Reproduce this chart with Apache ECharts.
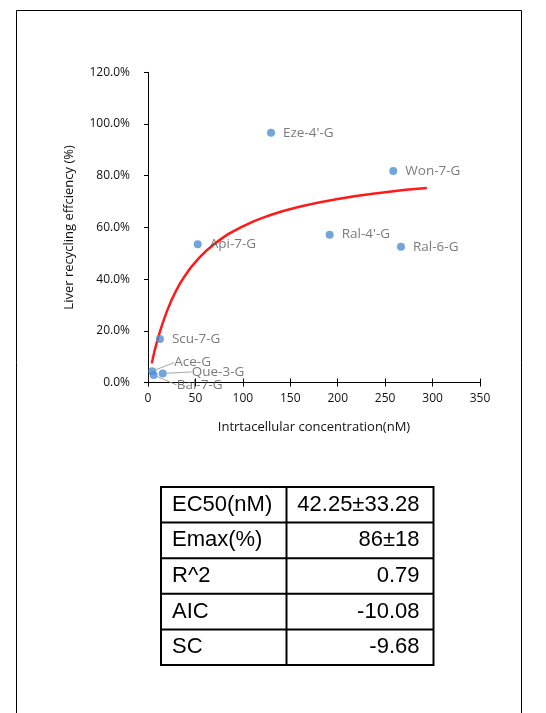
<!DOCTYPE html>
<html>
<head>
<meta charset="utf-8">
<script src="https://cdn.jsdelivr.net/npm/echarts@6/dist/echarts.min.js"></script>
<style>
html,body{margin:0;padding:0;background:#fff;}
#chart{width:546px;height:713px;}
</style>
</head>
<body>
<div id="chart"></div>
<script>
// ---- data ----
var pointNames = ["Eze-4'-G", "Won-7-G", "Api-7-G", "Ral-4'-G", "Ral-6-G", "Scu-7-G", "Ace-G", "Que-3-G", "Bal-7-G"];
var pointX = [129.7, 258.6, 52.4, 191.5, 266.7, 12.6, 4.5, 15.5, 6.0];
var pointY = [96.6, 81.8, 53.5, 57.2, 52.5, 16.8, 4.4, 3.5, 2.9];

// fitted curve
var curveX = [4, 10, 20, 30, 40, 50, 70, 100, 130, 160, 200, 250, 294];
var curveY = [7.4, 16.5, 27.6, 35.8, 41.8, 46.6, 53.6, 60.4, 64.9, 68.0, 71.0, 73.6, 75.2];

var xTicks = [0, 50, 100, 150, 200, 250, 300, 350];
var yTicks = [0, 20, 40, 60, 80, 100, 120];

var tableLabels = ["EC50(nM)", "Emax(%)", "R^2", "AIC", "SC"];
var tableValues = ["42.25\u00b133.28", "86\u00b118", "0.79", "-10.08", "-9.68"];

// ---- styling / layout (not data) ----
var leaderOffsets = {"Ace-G": [10, -8.5], "Que-3-G": [17, -1.5], "Bal-7-G": [11, 10]};
var FONT = "'Open Sans', sans-serif";

var scatterData = pointNames.map(function (n, i) {
  var item = {name: n, value: [pointX[i], pointY[i]]};
  if (leaderOffsets[n]) {
    item.labelLine = {show: true, lineStyle: {color: '#a6a6a6', width: 1}};
  }
  return item;
});
var curveData = curveX.map(function (x, i) { return [x, curveY[i]]; });

var chart = echarts.init(document.getElementById('chart'), null, {renderer: 'canvas'});

// table graphic
var tLeft = 161, tTop = 487, tRight = 433.5, tDiv = 286.5, rowH = 35.6;
var gfx = [];
gfx.push({type: 'rect', shape: {x: 16.5, y: 10.5, width: 505, height: 730}, style: {fill: 'none', stroke: '#000', lineWidth: 1}, z: 0});
var tBottom = tTop + rowH * tableLabels.length;
gfx.push({type: 'rect', shape: {x: tLeft, y: tTop, width: tRight - tLeft, height: tBottom - tTop}, style: {fill: 'none', stroke: '#000', lineWidth: 2}});
gfx.push({type: 'line', shape: {x1: tDiv, y1: tTop, x2: tDiv, y2: tBottom}, style: {stroke: '#000', lineWidth: 2}});
for (var r = 1; r < tableLabels.length; r++) {
  var yy = tTop + rowH * r;
  gfx.push({type: 'line', shape: {x1: tLeft, y1: yy, x2: tRight, y2: yy}, style: {stroke: '#000', lineWidth: 2}});
}
tableLabels.forEach(function (lab, i) {
  var cy = tTop + rowH * i + rowH / 2;
  gfx.push({type: 'text', x: tLeft + 11, y: cy, style: {text: lab, font: "22px 'Liberation Sans', Arial, sans-serif", fill: '#000', textAlign: 'left', textVerticalAlign: 'middle'}});
  gfx.push({type: 'text', x: tRight - 14, y: cy, style: {text: tableValues[i], font: "22px 'Liberation Sans', Arial, sans-serif", fill: '#000', textAlign: 'right', textVerticalAlign: 'middle'}});
});

var axisCommon = {
  axisLine: {show: true, onZero: false, lineStyle: {color: '#000', width: 1}},
  splitLine: {show: false}
};

var option = {
  animation: false,
  backgroundColor: '#fff',
  grid: {left: 148, top: 72.3, width: 332, height: 310.2, containLabel: false},
  xAxis: [
    Object.assign({
      type: 'value', min: xTicks[0], max: xTicks[xTicks.length - 1], interval: 50, position: 'bottom',
      name: 'Intrtacellular concentration(nM)', nameLocation: 'middle', nameGap: 38,
      nameTextStyle: {fontFamily: FONT, fontSize: 13, color: '#111'},
      axisTick: {show: true, inside: false, length: 4, lineStyle: {color: '#000'}},
      axisLabel: {margin: 10, fontFamily: FONT, fontSize: 12, color: '#111'}
    }, axisCommon),
    Object.assign({
      type: 'value', min: xTicks[0], max: xTicks[xTicks.length - 1], interval: 50, position: 'bottom', offset: 0,
      axisTick: {show: true, inside: true, length: 4, lineStyle: {color: '#000'}},
      axisLabel: {show: false}
    }, axisCommon)
  ],
  yAxis: Object.assign({
    type: 'value', min: yTicks[0], max: yTicks[yTicks.length - 1], interval: 20,
    name: 'Liver recycling effciency (%)', nameLocation: 'middle', nameGap: 72,
    nameTextStyle: {fontFamily: FONT, fontSize: 13, color: '#111'},
    axisTick: {show: true, inside: false, length: 4, lineStyle: {color: '#000'}},
    axisLabel: {margin: 18, fontFamily: FONT, fontSize: 12, color: '#111',
      formatter: function (v) { return v.toFixed(1) + '%'; }}
  }, axisCommon),
  series: [
    {
      type: 'line', xAxisIndex: 0, data: curveData, smooth: 0.5, showSymbol: false,
      lineStyle: {color: '#ff1a1a', width: 2.5}, z: 2
    },
    {
      type: 'scatter', xAxisIndex: 0, data: scatterData, symbolSize: 8,
      itemStyle: {color: '#4f8fd0'}, z: 3,
      label: {show: true, position: 'right', distance: 8, formatter: '{b}',
        fontFamily: FONT, fontSize: 13.5, color: '#595959'},
      labelLayout: function (params) {
        var off = leaderOffsets[pointNames[params.dataIndex]];
        if (off) return {dx: off[0], dy: off[1]};
        return {};
      }
    }
  ],
  graphic: gfx
};
chart.setOption(option);
</script>
</body>
</html>
